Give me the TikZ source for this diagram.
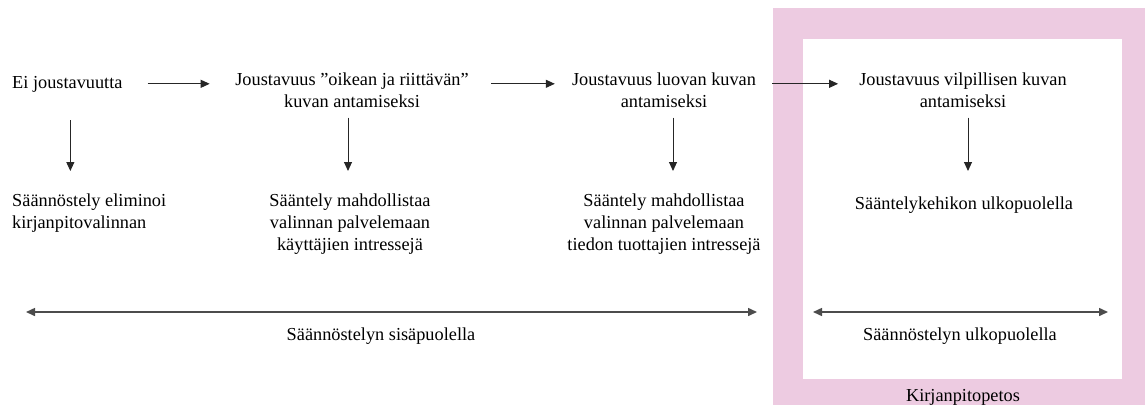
\documentclass[tikz,border=0pt]{standalone}
\usepackage{fontspec}
\setmainfont{Liberation Serif}
\usetikzlibrary{arrows.meta}
\definecolor{fraudpink}{RGB}{237,203,225}
\begin{document}
\begin{tikzpicture}[x=1pt,y=-1pt,
  txt/.style={inner sep=0pt, font=\fontsize{18.3}{22}\selectfont, align=center,
              execute at begin node=\strut, execute at end node=\strut},
  arr/.style={draw=black!85, line width=1pt, -{Triangle[length=9pt,width=8pt]}},
  biarr/.style={draw=black!70, line width=1.5pt,
                {Triangle[length=9pt,width=8pt]}-{Triangle[length=9pt,width=8pt]}}]
\useasboundingbox (0,0) rectangle (1145,405);

% accounting-fraud frame
\fill[fraudpink] (773,8) rectangle (1145,405);
\fill[white] (803,39) rectangle (1122,379);

% top row: degrees of flexibility
\node[txt, anchor=north west, align=left] (n1) at (12,72.6) {Ei joustavuutta};
\node[txt, anchor=north] (n2) at (352,72.6) {Joustavuus ”oikean ja riittävän”\\kuvan antamiseksi};
\node[txt, anchor=north] (n3) at (664,72.6) {Joustavuus luovan kuvan\\antamiseksi};
\node[txt, anchor=north] (n4) at (963,72.6) {Joustavuus vilpillisen kuvan\\antamiseksi};

% second row: consequences
\node[txt, anchor=north west, align=left] (b1) at (12,193.6) {Säännöstely eliminoi\\kirjanpitovalinnan};
\node[txt, anchor=north] (b2) at (350,193.6) {Sääntely mahdollistaa\\valinnan palvelemaan\\käyttäjien intressejä};
\node[txt, anchor=north] (b3) at (664,193.6) {Sääntely mahdollistaa\\valinnan palvelemaan\\tiedon tuottajien intressejä};
\node[txt, anchor=north] (b4) at (964,193.6) {Sääntelykehikon ulkopuolella};

% range labels
\node[txt, anchor=north] (inside) at (381,324.6) {Säännöstelyn sisäpuolella};
\node[txt, anchor=north] (outside) at (960,324.6) {Säännöstelyn ulkopuolella};
\node[txt, anchor=north] (fraud) at (963,385.6) {Kirjanpitopetos};

% horizontal flow
\draw[arr, shorten <=25pt, shorten >=25.5pt] (n1.east) -- (n1.east -| n2.west);
\draw[arr, shorten <=22.5pt, shorten >=17pt] (n2.east |- n1.east) -- (n3.west |- n1.east);
\draw[arr, shorten <=16pt, shorten >=21pt] (n3.east |- n1.east) -- (n4.west |- n1.east);

% vertical flow
\draw[arr, shorten <=25.4pt, shorten >=22.6pt] ([xshift=3pt]n1.south) -- ([xshift=3pt]n1.south |- b1.north);
\draw[arr, shorten <=3.4pt, shorten >=22.6pt] ([xshift=-4pt]n2.south) -- ([xshift=-4pt]n2.south |- b2.north);
\draw[arr, shorten <=3.4pt, shorten >=22.6pt] ([xshift=9pt]n3.south) -- ([xshift=9pt]n3.south |- b3.north);
\draw[arr, shorten <=3.4pt, shorten >=22.6pt] ([xshift=5pt]n4.south) -- ([xshift=5pt]n4.south |- b4.north);

% range arrows
\coordinate (inL) at (26,312);
\coordinate (inR) at (757,312);
\coordinate (outL) at (813,312);
\coordinate (outR) at (1108,312);
\draw[biarr] (inL) -- (inR);
\draw[biarr] (outL) -- (outR);
\end{tikzpicture}
\end{document}
